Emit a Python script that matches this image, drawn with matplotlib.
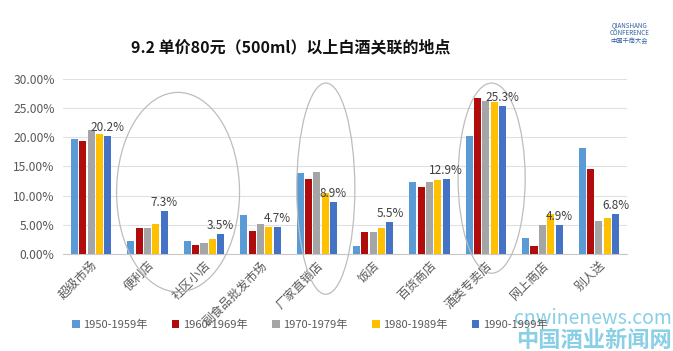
import matplotlib
matplotlib.use("Agg")
import matplotlib.pyplot as plt
from matplotlib.patches import Ellipse
from matplotlib.ticker import FuncFormatter
import numpy as np

plt.rcParams['font.family'] = ['Noto Sans CJK SC', 'DejaVu Sans']

categories = ["超级市场", "便利店", "社区小店", "副食品批发市场", "厂家直销店",
              "饭店", "百货商店", "酒类专卖店", "网上商店", "别人送"]
series_names = ["1950-1959年", "1960-1969年", "1970-1979年", "1980-1989年", "1990-1999年"]

s1950 = [19.7, 2.2, 2.2, 6.6, 13.9, 1.4, 12.3, 20.3, 2.8, 18.2]
s1960 = [19.4, 4.4, 1.5, 3.9, 12.8, 3.8, 11.5, 26.8, 1.3, 14.6]
s1970 = [21.3, 4.5, 1.8, 5.2, 14.0, 3.7, 12.3, 26.3, 4.9, 5.7]
s1980 = [20.6, 5.1, 2.5, 4.7, 10.5, 4.5, 12.6, 26.1, 6.9, 6.1]
s1990 = [20.2, 7.3, 3.5, 4.7, 8.9, 5.5, 12.9, 25.3, 4.9, 6.8]
series = [s1950, s1960, s1970, s1980, s1990]

colors = ["#5B9BD5", "#B00C0C", "#A5A5A5", "#FFC000", "#4472C4"]

# circled groups: (center category, width in categories, center %, height %)
circles = [(1.54, 2.18, 10.6, 34.2), (4.16, 1.03, 11.2, 36.2), (7.10, 1.19, 13.0, 32.6)]

fig = plt.figure(figsize=(6.73, 3.51), dpi=100)
ax = fig.add_axes([0.0936, 0.2764, 0.838, 0.4986])

x = np.arange(len(categories))
step = 0.148
width = 0.125
for i, (vals, c, name) in enumerate(zip(series, colors, series_names)):
    ax.bar(x + (i - 2) * step, vals, width, color=c, label=name, zorder=3)

for xi, v in zip(x, s1990):
    ax.text(xi + 2 * step, v + 0.35, "%.1f%%" % v, ha='center', va='bottom',
            fontsize=8.5, color="#404040", zorder=5)

for cx, w, cy, h in circles:
    ax.add_patch(Ellipse((cx, cy), w, h, fill=False, edgecolor="#BDBDBD",
                         lw=0.9, clip_on=False, zorder=4))

ax.set_xlim(-0.5, len(categories) - 0.5)
ax.set_ylim(0, 30)
ax.set_yticks(np.arange(0, 31, 5))
ax.yaxis.set_major_formatter(FuncFormatter(lambda v, p: "%.2f%%" % v))
ax.grid(axis='y', color="#E0E0E0", lw=0.8, zorder=0)
for s in ["top", "right", "left"]:
    ax.spines[s].set_visible(False)
ax.spines["bottom"].set_color("#C8C8C8")
ax.tick_params(axis='both', length=0, colors="#595959", labelsize=8.7)
ax.tick_params(axis='y', pad=6)
ax.set_xticks(x)
ax.set_xticklabels(categories, rotation=45, ha='right', rotation_mode='anchor')

fig.text(0.432, 0.866, "9.2 单价80元（500ml）以上白酒关联的地点",
         ha='center', va='center', fontsize=11.5, fontweight='bold', color="#111111")

fig.legend(loc='center', bbox_to_anchor=(0.46, 0.074), ncol=5, frameon=False,
           fontsize=8, handlelength=0.7, handleheight=0.7, handletextpad=0.3,
           columnspacing=2.2, labelcolor="#595959")

# watermark and logo
fig.text(0.998, 0.092, "cnwinenews.com", ha='right', va='center', fontsize=14,
         color="#6CC3E0", alpha=0.8)
fig.text(0.998, 0.03, "中国酒业新闻网", ha='right', va='center', fontsize=16,
         color="#6CC3E0", alpha=0.8, fontweight='bold')
fig.text(0.935, 0.905, "QIANSHANG\nCONFERENCE\n中国千商大会", ha='center', va='center',
         fontsize=4.5, color="#2E5E9E", linespacing=1.0)

fig.savefig("out.png", dpi=100)
